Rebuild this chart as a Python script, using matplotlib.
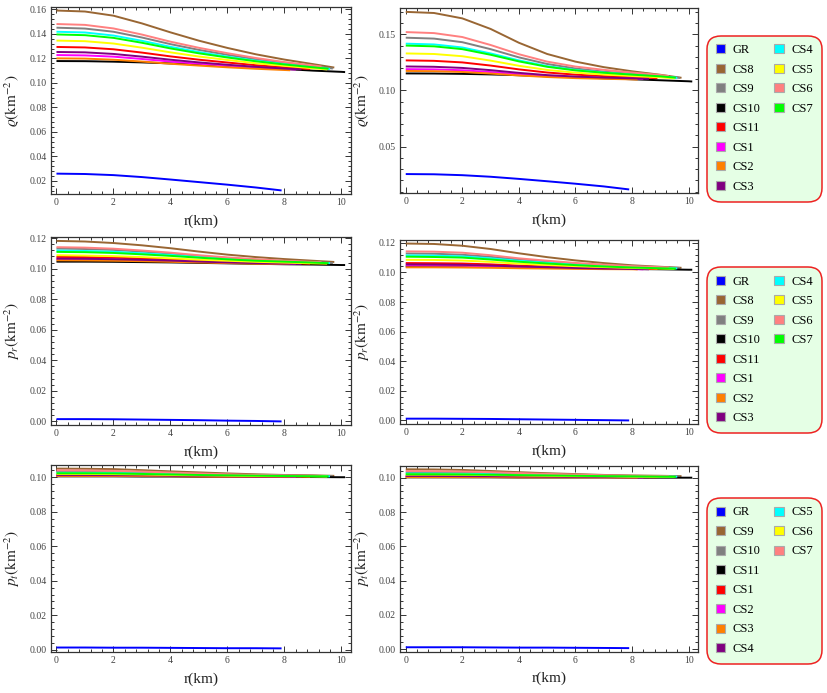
import matplotlib
matplotlib.use("Agg")
import matplotlib.pyplot as plt
from matplotlib.patches import Patch
from matplotlib.ticker import MultipleLocator, FormatStrFormatter

plt.rcParams['font.family'] = ['Liberation Serif', 'DejaVu Serif']
plt.rcParams['mathtext.fontset'] = 'stix'

# --- series (legend order) ---
names = ['GR', 'CS8', 'CS9', 'CS10', 'CS11', 'CS1', 'CS2', 'CS3', 'CS4', 'CS5', 'CS6', 'CS7']
names_pt = ['GR', 'CS9', 'CS10', 'CS11', 'CS1', 'CS2', 'CS3', 'CS4', 'CS5', 'CS6', 'CS7']
colors = ['#0000FF', '#996633', '#808080', '#000000', '#FF0000', '#FF00FF',
          '#FF8000', '#800080', '#00FFFF', '#FFFF00', '#FF8080', '#00FF00']
# stellar radius (km) of each model; values below are read at r = 0, 1, 2, ... and at the radius
radii = [7.9, 9.75, 9.7, 10.13, 8.9, 8.4, 8.2, 8.6, 9.6, 9.5, 9.3, 9.55]

rho_left = [
    [.0260, .0257, .0248, .0232, .0212, .0191, .0170, .0147, .0123],
    [.1590, .1582, .1548, .1485, .1412, .1344, .1285, .1233, .1190, .1153, .1125],
    [.1450, .1443, .1417, .1370, .1316, .1269, .1229, .1192, .1162, .1135, .1117],
    [.1178, .1177, .1173, .1167, .1159, .1149, .1138, .1126, .1113, .1100, .1090, .1088],
    [.1293, .1289, .1274, .1247, .1216, .1189, .1166, .1144, .1127, .1113],
    [.1227, .1224, .1214, .1195, .1174, .1156, .1140, .1125, .1113, .1109],
    [.1200, .1198, .1189, .1174, .1156, .1141, .1127, .1115, .1105, .1103],
    [.1252, .1249, .1236, .1214, .1189, .1167, .1148, .1131, .1117, .1110],
    [.1417, .1411, .1386, .1343, .1294, .1251, .1214, .1181, .1153, .1128, .1113],
    [.1345, .1340, .1321, .1287, .1249, .1215, .1187, .1160, .1139, .1119, .1110],
    [.1480, .1473, .1444, .1394, .1336, .1286, .1242, .1203, .1170, .1142, .1133],
    [.1395, .1389, .1367, .1327, .1281, .1241, .1207, .1176, .1150, .1127, .1115],
]
rho_right = [
    [.0256, .0254, .0246, .0232, .0213, .0192, .0170, .0146, .0119],
    [.1700, .1690, .1642, .1548, .1425, .1325, .1257, .1208, .1171, .1140, .1113],
    [.1470, .1462, .1430, .1368, .1295, .1236, .1196, .1168, .1148, .1130, .1112],
    [.1152, .1151, .1148, .1143, .1136, .1127, .1118, .1109, .1100, .1091, .1082, .1080],
    [.1268, .1264, .1250, .1222, .1188, .1160, .1141, .1128, .1118, .1110],
    [.1190, .1188, .1180, .1164, .1145, .1129, .1118, .1111, .1106, .1103],
    [.1174, .1172, .1165, .1151, .1134, .1120, .1110, .1104, .1099, .1097],
    [.1214, .1211, .1201, .1181, .1157, .1137, .1124, .1115, .1108, .1104],
    [.1417, .1410, .1383, .1330, .1268, .1217, .1183, .1160, .1142, .1126, .1113],
    [.1330, .1325, .1305, .1266, .1220, .1183, .1159, .1142, .1129, .1117, .1108],
    [.1520, .1511, .1476, .1405, .1323, .1257, .1213, .1184, .1160, .1138, .1128],
    [.1400, .1393, .1368, .1318, .1259, .1211, .1179, .1158, .1141, .1126, .1114],
]
pr_left = [
    [.0015, .0015, .0014, .0012, .0010, .0008, .0005, .0003, .0000],
    [.1182, .1178, .1168, .1153, .1134, .1112, .1092, .1076, .1063, .1052, .1044],
    [.1132, .1129, .1123, .1112, .1099, .1084, .1070, .1059, .1050, .1043, .1037],
    [.1046, .1046, .1045, .1043, .1041, .1038, .1035, .1032, .1029, .1027, .1024, .1024],
    [.1077, .1076, .1072, .1067, .1061, .1053, .1046, .1041, .1037, .1033],
    [.1062, .1061, .1059, .1055, .1050, .1045, .1040, .1036, .1033, .1031],
    [.1055, .1054, .1052, .1049, .1045, .1041, .1037, .1033, .1031, .1030],
    [.1066, .1065, .1062, .1058, .1053, .1047, .1041, .1037, .1033, .1031],
    [.1119, .1116, .1111, .1101, .1090, .1076, .1064, .1054, .1047, .1040, .1036],
    [.1088, .1086, .1082, .1076, .1068, .1059, .1052, .1045, .1040, .1035, .1033],
    [.1141, .1138, .1131, .1119, .1105, .1088, .1074, .1062, .1052, .1044, .1042],
    [.1110, .1108, .1103, .1094, .1084, .1072, .1061, .1052, .1046, .1040, .1036],
]
pr_right = [
    [.0012, .0012, .0011, .0010, .0008, .0006, .0004, .0002, .0000],
    [.1195, .1192, .1180, .1158, .1129, .1103, .1081, .1063, .1048, .1038, .1031],
    [.1128, .1126, .1119, .1105, .1087, .1072, .1059, .1049, .1040, .1034, .1030],
    [.1040, .1040, .1039, .1037, .1035, .1032, .1029, .1026, .1023, .1021, .1018, .1018],
    [.1063, .1062, .1060, .1054, .1046, .1040, .1034, .1030, .1026, .1023],
    [.1047, .1046, .1045, .1041, .1036, .1032, .1028, .1025, .1023, .1021],
    [.1034, .1034, .1033, .1031, .1028, .1026, .1024, .1022, .1021, .1020],
    [.1054, .1053, .1051, .1046, .1040, .1035, .1030, .1026, .1023, .1021],
    [.1115, .1113, .1108, .1095, .1078, .1065, .1053, .1044, .1036, .1031, .1027],
    [.1085, .1084, .1080, .1071, .1059, .1050, .1042, .1036, .1030, .1026, .1024],
    [.1142, .1140, .1133, .1116, .1095, .1079, .1064, .1052, .1042, .1035, .1033],
    [.1106, .1104, .1100, .1087, .1072, .1060, .1049, .1040, .1033, .1028, .1025],
]
pt_left = [
    [.0013, .0013, .0012, .0012, .0011, .0010, .0009, .0009, .0008],
    [.1050, .1049, .1047, .1041, .1034, .1028, .1022, .1017, .1013, .1011, .1008],
    [.1031, .1031, .1029, .1026, .1022, .1018, .1014, .1012, .1009, .1008, .1006],
    [.1005, .1005, .1005, .1004, .1004, .1003, .1003, .1002, .1001, .1001, .1000, .1000],
    [.1010, .1010, .1009, .1009, .1007, .1006, .1005, .1005, .1004, .1003],
    [.1011, .1011, .1010, .1009, .1008, .1007, .1006, .1005, .1004, .1003],
    [.1008, .1008, .1008, .1007, .1006, .1005, .1004, .1004, .1003, .1003],
    [.1013, .1013, .1012, .1011, .1009, .1008, .1006, .1005, .1004, .1003],
    [.1026, .1026, .1024, .1022, .1018, .1015, .1012, .1010, .1008, .1006, .1005],
    [.1019, .1019, .1018, .1016, .1013, .1011, .1009, .1007, .1006, .1005, .1004],
    [.1040, .1039, .1037, .1033, .1027, .1022, .1017, .1013, .1010, .1008, .1007],
    [.1023, .1023, .1022, .1019, .1016, .1013, .1011, .1009, .1007, .1006, .1005],
]
pt_right = [
    [.0012, .0012, .0012, .0011, .0010, .0010, .0009, .0008, .0007],
    [.1049, .1048, .1045, .1039, .1032, .1026, .1021, .1016, .1013, .1011, .1009],
    [.1032, .1032, .1030, .1027, .1023, .1019, .1015, .1012, .1010, .1008, .1007],
    [.1002, .1002, .1002, .1002, .1001, .1001, .1001, .1001, .1000, .1000, .1000, .1000],
    [.1008, .1008, .1008, .1007, .1006, .1005, .1004, .1004, .1003, .1003],
    [.1006, .1006, .1006, .1005, .1005, .1004, .1004, .1003, .1003, .1002],
    [.1003, .1003, .1003, .1003, .1002, .1002, .1002, .1002, .1001, .1001],
    [.1010, .1010, .1009, .1008, .1007, .1006, .1005, .1004, .1003, .1003],
    [.1024, .1024, .1023, .1020, .1017, .1015, .1012, .1010, .1008, .1007, .1006],
    [.1018, .1018, .1017, .1015, .1013, .1011, .1009, .1008, .1006, .1005, .1005],
    [.1039, .1038, .1036, .1032, .1027, .1022, .1018, .1014, .1011, .1009, .1008],
    [.1020, .1020, .1019, .1017, .1015, .1013, .1011, .1009, .1008, .1006, .1005],
]

panels = [
    (rho_left, r'$\varrho(\mathrm{km}^{-2})$', 0.02, [0.0613, 0.7200, 0.3630, 0.2700]),
    (rho_right, r'$\varrho(\mathrm{km}^{-2})$', 0.05, [0.4837, 0.7215, 0.3603, 0.2665]),
    (pr_left, r'$p_r(\mathrm{km}^{-2})$', 0.02, [0.0613, 0.3867, 0.3630, 0.2709]),
    (pr_right, r'$p_r(\mathrm{km}^{-2})$', 0.02, [0.4837, 0.3882, 0.3603, 0.2655]),
    (pt_left, r'$p_t(\mathrm{km}^{-2})$', 0.02, [0.0613, 0.0592, 0.3630, 0.2698]),
    (pt_right, r'$p_t(\mathrm{km}^{-2})$', 0.02, [0.4837, 0.0596, 0.3603, 0.2684]),
]

fig = plt.figure(figsize=(8.27, 6.93), dpi=100)

for data, ylab, ystep, pos in panels:
    ax = fig.add_axes(pos)
    for vals, R, c in zip(data, radii, colors):
        r = list(range(len(vals) - 1)) + [R]
        ax.plot(r, vals, color=c, lw=1.4, solid_capstyle='butt', solid_joinstyle='round')
    ax.margins(x=0.02, y=0.02)
    ax.xaxis.set_major_locator(MultipleLocator(2))
    ax.xaxis.set_minor_locator(MultipleLocator(0.4))
    ax.yaxis.set_major_locator(MultipleLocator(ystep))
    ax.yaxis.set_minor_locator(MultipleLocator(ystep / 5))
    ax.xaxis.set_major_formatter(FormatStrFormatter('%d'))
    ax.yaxis.set_major_formatter(FormatStrFormatter('%.2f'))
    ax.tick_params(which='both', direction='in', top=True, right=True,
                   labelsize=7, labelcolor='#444444', color='#333333', width=0.7)
    ax.tick_params(which='major', length=4, pad=3)
    ax.tick_params(which='minor', length=2)
    for s in ax.spines.values():
        s.set_color('#333333')
        s.set_linewidth(0.9)
    ax.set_xlabel('r(km)', fontsize=11, color='#222222', labelpad=5)
    ax.set_ylabel(ylab, fontsize=11, color='#222222', labelpad=5)


def add_legend(labels, cy):
    handles = [Patch(facecolor=c, edgecolor='#aaaaaa', linewidth=0.8) for c in colors[:len(labels)]]
    labs = list(labels)
    # pad to 16 entries so the first column holds 8 rows
    while len(handles) < 16:
        handles.append(Patch(facecolor='none', edgecolor='none'))
        labs.append('')
    leg = fig.legend(handles, labs, loc='center', bbox_to_anchor=(0.9245, cy),
                     ncol=2, fontsize=9, frameon=True, handlelength=0.75,
                     handleheight=0.75, handletextpad=0.6, columnspacing=1.1,
                     labelspacing=0.6, borderpad=0.7, borderaxespad=0)
    fr = leg.get_frame()
    fr.set_facecolor('#E5FFE5')
    fr.set_edgecolor('#EE2222')
    fr.set_linewidth(1.1)
    fr.set_alpha(1)
    fr.set_boxstyle('round,pad=0,rounding_size=1.1')


add_legend(names, 0.829)
add_legend(names, 0.495)
add_legend(names_pt, 0.162)

fig.savefig('out.png', dpi=100)
